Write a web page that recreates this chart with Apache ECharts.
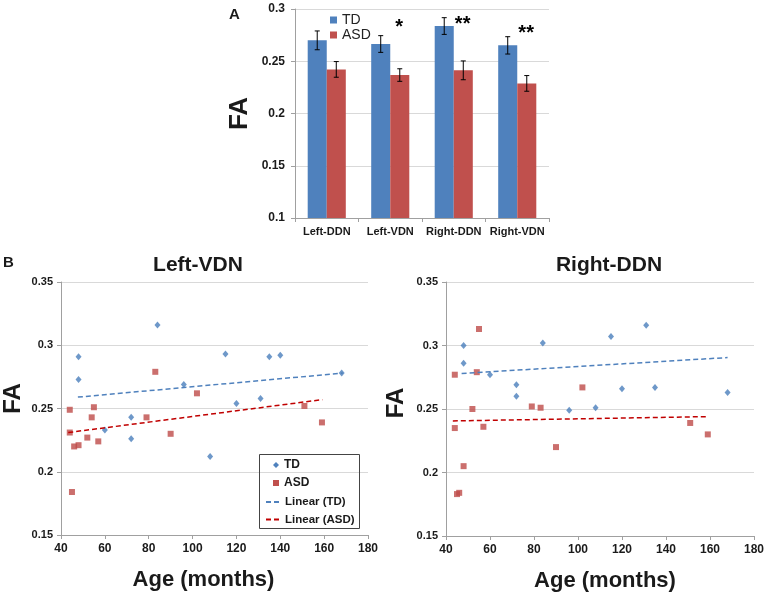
<!DOCTYPE html>
<html><head><meta charset="utf-8">
<script src="https://cdn.jsdelivr.net/npm/echarts@6/dist/echarts.min.js"></script>
<style>html,body{margin:0;padding:0;background:#fff}#c{width:767px;height:593px}</style>
</head><body><div id="c"></div>
<script>
// ---- Panel A data ----
const categories = ['Left-DDN', 'Left-VDN', 'Right-DDN', 'Right-VDN'];
const tdMean = [0.270, 0.2665, 0.2837, 0.2652];
const asdMean = [0.2422, 0.2368, 0.2413, 0.2288];
const tdErr = [0.009, 0.008, 0.008, 0.0083];
const asdErr = [0.0075, 0.006, 0.009, 0.0075];
const sigLabels = ['', '*', '**', '**'];
const sigLevel = [0, 0.286, 0.289, 0.280];

// ---- Panel B: Left-VDN ----
const leftTD = [[48,0.291],[48,0.273],[60,0.233],[72,0.243],[72,0.226],[84,0.316],[96,0.269],[108,0.212],[115,0.293],[120,0.254],[131,0.258],[135,0.291],[140,0.292],[168,0.278]];
const leftASD = [[44,0.249],[44,0.231],[45,0.184],[46,0.220],[48,0.221],[52,0.227],[54,0.243],[55,0.251],[57,0.224],[79,0.243],[83,0.279],[90,0.230],[102,0.262],[151,0.252],[159,0.239]];
const leftTDTrend = [[47.7,0.259],[168.5,0.278]];
const leftASDTrend = [[43.3,0.231],[159.2,0.257]];

// ---- Panel B: Right-DDN ----
const rightTD = [[48,0.300],[48,0.286],[60,0.277],[72,0.269],[72,0.260],[84,0.302],[96,0.249],[108,0.251],[115,0.307],[120,0.266],[131,0.316],[135,0.267],[168,0.263]];
const rightASD = [[44,0.277],[44,0.235],[45,0.183],[46,0.184],[48,0.205],[52,0.250],[54,0.279],[55,0.313],[57,0.236],[79,0.252],[83,0.251],[90,0.220],[102,0.267],[151,0.239],[159,0.230]];
const rightTDTrend = [[47.1,0.278],[168,0.2905]];
const rightASDTrend = [[43.1,0.2406],[158.6,0.244]];

const FONT = '"Liberation Sans", Arial, sans-serif';
const BLUE = '#4F81BD', RED = '#C0504D';
const TXT = '#1a1a1a';
const axisLineC = '#a0a0a0', gridC = '#d9d9d9';

const chart = echarts.init(document.getElementById('c'), null, {renderer: 'canvas'});

function errRender(side) {
  return function (params, api) {
    const i = api.value(0), m = api.value(1), e = api.value(2);
    const c = api.coord([i, m]);
    const band = api.size([1, 0])[0];
    const x = c[0] + side * band * 0.15;
    const yt = api.coord([i, m + e])[1];
    const yb = api.coord([i, m - e])[1];
    const st = {stroke: '#000', lineWidth: 1};
    return {type: 'group', children: [
      {type: 'line', shape: {x1: x, y1: yt, x2: x, y2: yb}, style: st},
      {type: 'line', shape: {x1: x - 2.5, y1: yt, x2: x + 2.5, y2: yt}, style: st},
      {type: 'line', shape: {x1: x - 2.5, y1: yb, x2: x + 2.5, y2: yb}, style: st}
    ]};
  };
}

const valAxisCommon = {
  axisLine: {show: true, lineStyle: {color: axisLineC}},
  axisTick: {show: true, length: 4, lineStyle: {color: axisLineC}},
  splitLine: {show: true, lineStyle: {color: gridC}},
  axisLabel: {color: TXT, fontFamily: FONT, fontWeight: 'bold', fontSize: 12}
};

function scatterX(gi, pad) {
  return {
    type: 'value', gridIndex: gi, min: 40, max: 180, interval: 20,
    name: 'Age (months)', nameLocation: 'middle', nameGap: 34,
    nameTextStyle: {color: TXT, fontFamily: FONT, fontWeight: 'bold', fontSize: 22, padding: pad},
    axisLine: {show: true, lineStyle: {color: axisLineC}},
    axisTick: {show: true, length: 4, lineStyle: {color: axisLineC}},
    splitLine: {show: false},
    axisLabel: {color: TXT, fontFamily: FONT, fontWeight: 'bold', fontSize: 12, margin: 8}
  };
}
function scatterY(gi, gap, pad) {
  return Object.assign({}, valAxisCommon, {
    type: 'value', gridIndex: gi, min: 0.15, max: 0.35, interval: 0.05,
    name: 'FA', nameLocation: 'middle', nameRotate: 90, nameGap: gap,
    nameTextStyle: {color: TXT, fontFamily: FONT, fontWeight: 'bold', fontSize: 24, padding: pad},
    axisLabel: {color: TXT, fontFamily: FONT, fontWeight: 'bold', fontSize: 11, margin: 8}
  });
}

const hiddenSym = {color: 'rgba(0,0,0,0)', borderWidth: 0, opacity: 0};

const option = {
  backgroundColor: '#fff',
  animation: false,
  textStyle: {fontFamily: FONT},
  title: [
    {text: 'A', left: 224, top: 2, textStyle: {fontFamily: FONT, fontWeight: 'bold', fontSize: 15, color: TXT}},
    {text: 'B', left: -2, top: 250, textStyle: {fontFamily: FONT, fontWeight: 'bold', fontSize: 15, color: TXT}},
    {text: 'Left-VDN', left: 193, top: 250, textAlign: 'center', textStyle: {fontFamily: FONT, fontWeight: 'bold', fontSize: 21, color: TXT}},
    {text: 'Right-DDN', left: 604, top: 250, textAlign: 'center', textStyle: {fontFamily: FONT, fontWeight: 'bold', fontSize: 21, color: TXT}}
  ],
  legend: [
    {
      data: [{name: 'TD'}, {name: 'ASD'}], orient: 'vertical', left: 325, top: 8,
      icon: 'rect', itemWidth: 7, itemHeight: 7, itemGap: 1,
      textStyle: {fontFamily: FONT, fontSize: 14, color: '#222'}, selectedMode: false
    },
    {
      data: [{name: 'TD', icon: 'diamond'}, {name: 'ASD', icon: 'rect'}], orient: 'vertical', left: 268, top: 454,
      itemWidth: 6, itemHeight: 6, itemGap: 6,
      textStyle: {fontFamily: FONT, fontSize: 12, fontWeight: 'bold', color: TXT}, selectedMode: false
    },
    {
      data: [{name: 'Linear (TD)', itemStyle: hiddenSym}, {name: 'Linear (ASD)', itemStyle: hiddenSym}], orient: 'vertical', left: 260, top: 491,
      itemWidth: 14, itemHeight: 6, itemGap: 5.5,
      textStyle: {fontFamily: FONT, fontSize: 11.5, fontWeight: 'bold', color: TXT}, selectedMode: false
    }
  ],
  graphic: [
    {type: 'rect', shape: {x: 259.5, y: 454.5, width: 100, height: 74}, style: {fill: 'none', stroke: '#444', lineWidth: 1}, z: 10}
  ],
  grid: [
    {left: 295, top: 9, width: 254, height: 209},
    {left: 59, top: 282, width: 309, height: 253},
    {left: 446, top: 282, width: 310, height: 254}
  ],
  xAxis: [
    {
      type: 'category', gridIndex: 0, data: categories,
      axisLine: {show: true, lineStyle: {color: axisLineC}},
      axisTick: {show: true, length: 4, lineStyle: {color: axisLineC}},
      axisLabel: {color: TXT, fontFamily: FONT, fontWeight: 'bold', fontSize: 11, margin: 8, interval: 0}
    },
    scatterX(1, [0, 22, 0, 0]), scatterX(2, [0, 0, 0, 10])
  ],
  yAxis: [
    Object.assign({}, valAxisCommon, {
      type: 'value', gridIndex: 0, min: 0.1, max: 0.3, interval: 0.05,
      name: 'FA', nameLocation: 'middle', nameRotate: 90, nameGap: 42,
      nameTextStyle: {color: TXT, fontFamily: FONT, fontWeight: 'bold', fontSize: 26},
      axisLabel: {color: TXT, fontFamily: FONT, fontWeight: 'bold', fontSize: 12, margin: 10}
    }),
    scatterY(1, 36, [0, 0, 0, 20]), scatterY(2, 38, [0, 0, 0, 12])
  ],
  series: [
    {name: 'TD', type: 'bar', xAxisIndex: 0, yAxisIndex: 0, data: tdMean, barGap: '0%', barCategoryGap: '40%', itemStyle: {color: BLUE}},
    {name: 'ASD', type: 'bar', xAxisIndex: 0, yAxisIndex: 0, data: asdMean, barGap: '0%', barCategoryGap: '40%', itemStyle: {color: RED}},
    {type: 'custom', xAxisIndex: 0, yAxisIndex: 0, renderItem: errRender(-1), data: categories.map((c, i) => [i, tdMean[i], tdErr[i]]), z: 5},
    {type: 'custom', xAxisIndex: 0, yAxisIndex: 0, renderItem: errRender(1), data: categories.map((c, i) => [i, asdMean[i], asdErr[i]]), z: 5},
    {
      type: 'custom', xAxisIndex: 0, yAxisIndex: 0, z: 6,
      data: categories.map((c, i) => [i, sigLevel[i]]).filter((d, i) => sigLabels[i]),
      renderItem: function (params, api) {
        const i = api.value(0);
        const c = api.coord([i, api.value(1)]);
        const band = api.size([1, 0])[0];
        return {type: 'text', style: {text: sigLabels[i], x: c[0] + band * 0.14, y: c[1] + 4, align: 'center', verticalAlign: 'middle',
          font: 'bold 20px ' + FONT, fill: '#000'}};
      }
    },
    {name: 'TD', type: 'scatter', xAxisIndex: 1, yAxisIndex: 1, data: leftTD, symbol: 'diamond', symbolSize: [6, 7], itemStyle: {color: '#4A7EBB'}},
    {name: 'ASD', type: 'scatter', xAxisIndex: 1, yAxisIndex: 1, data: leftASD, symbol: 'rect', symbolSize: 6, itemStyle: {color: '#BE4B48'}},
    {name: 'Linear (TD)', type: 'line', xAxisIndex: 1, yAxisIndex: 1, data: leftTDTrend, symbol: 'none', lineStyle: {color: '#4F81BD', width: 1.5, type: [5, 3]}, itemStyle: {color: '#4F81BD'}},
    {name: 'Linear (ASD)', type: 'line', xAxisIndex: 1, yAxisIndex: 1, data: leftASDTrend, symbol: 'none', lineStyle: {color: '#C00000', width: 1.5, type: [5, 3]}, itemStyle: {color: '#C00000'}},
    {name: 'TD', type: 'scatter', xAxisIndex: 2, yAxisIndex: 2, data: rightTD, symbol: 'diamond', symbolSize: [6, 7], itemStyle: {color: '#4A7EBB'}},
    {name: 'ASD', type: 'scatter', xAxisIndex: 2, yAxisIndex: 2, data: rightASD, symbol: 'rect', symbolSize: 6, itemStyle: {color: '#BE4B48'}},
    {name: 'Linear (TD)', type: 'line', xAxisIndex: 2, yAxisIndex: 2, data: rightTDTrend, symbol: 'none', lineStyle: {color: '#4F81BD', width: 1.5, type: [5, 3]}, itemStyle: {color: '#4F81BD'}},
    {name: 'Linear (ASD)', type: 'line', xAxisIndex: 2, yAxisIndex: 2, data: rightASDTrend, symbol: 'none', lineStyle: {color: '#C00000', width: 1.5, type: [5, 3]}, itemStyle: {color: '#C00000'}}
  ]
};
chart.setOption(option);
</script>
</body></html>
